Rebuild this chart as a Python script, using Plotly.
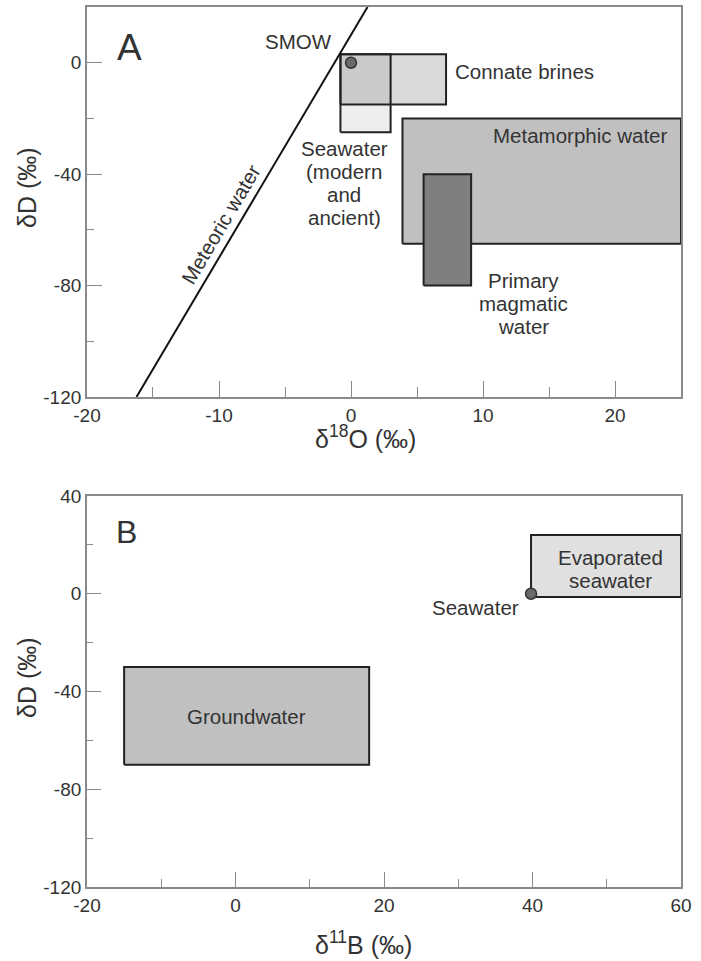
import plotly.graph_objects as go

# ---------------- data (panel A) ----------------
meteoric_x = [-16.25, 1.25]
meteoric_y = [-120, 20]
smow_x = [0]
smow_y = [0]
# boxes: [x0, x1, y0, y1]
seawater_box = [-0.8, 3, -25, 3]
connate_box = [-0.8, 7.2, -15, 3]
metamorphic_box = [3.9, 25, -65, -20]
magmatic_box = [5.5, 9.1, -80, -40]
a_xticks = [-20, -10, 0, 10, 20]
a_yticks = [-120, -80, -40, 0]

# ---------------- data (panel B) ----------------
groundwater_box = [-15, 18, -70, -30]
evaporated_box = [39.8, 60, -1.3, 24]
seawater_b_x = [39.8]
seawater_b_y = [0]
b_xticks = [-20, 0, 20, 40, 60]
b_yticks = [-120, -80, -40, 0, 40]

FONT = "Liberation Sans, Arial, Helvetica, sans-serif"
TXT = "#333333"
EDGE = "#222222"
AX = "#8a8a8a"

fig = go.Figure()


def box(b, fill, xa, ya):
    x0, x1, y0, y1 = b
    fig.add_trace(go.Scatter(
        x=[x0, x1, x1, x0, x0], y=[y0, y0, y1, y1, y0],
        mode="lines", fill="toself", fillcolor=fill,
        line=dict(color=EDGE, width=2), xaxis=xa, yaxis=ya,
        hoverinfo="skip", showlegend=False))


# panel A
box(metamorphic_box, "#c0c0c0", "x", "y")
box(magmatic_box, "#7f7f7f", "x", "y")
box(seawater_box, "rgba(0,0,0,0.065)", "x", "y")
box(connate_box, "rgba(0,0,0,0.15)", "x", "y")
fig.add_trace(go.Scatter(x=meteoric_x, y=meteoric_y, mode="lines",
                         line=dict(color="#111111", width=2),
                         xaxis="x", yaxis="y", showlegend=False))
fig.add_trace(go.Scatter(x=smow_x, y=smow_y, mode="markers",
                         marker=dict(size=11, color="#6a6a6a",
                                     line=dict(color="#333333", width=1.5)),
                         xaxis="x", yaxis="y", showlegend=False))

# panel B
box(groundwater_box, "#c0c0c0", "x2", "y2")
box(evaporated_box, "#e0e0e0", "x2", "y2")
fig.add_trace(go.Scatter(x=seawater_b_x, y=seawater_b_y, mode="markers",
                         marker=dict(size=11, color="#6a6a6a",
                                     line=dict(color="#333333", width=1.5)),
                         xaxis="x2", yaxis="y2", showlegend=False))

ann = []


def label(text, x, y, xref, yref, size=20.5, xanchor="center", yshift=0, angle=0):
    ann.append(dict(text=text, x=x, y=y, xref=xref, yref=yref, showarrow=False,
                    xanchor=xanchor, yanchor="middle", yshift=yshift,
                    textangle=angle, font=dict(family=FONT, size=size, color=TXT)))


def multiline(lines, x, y, xref, yref, size=20.5, spacing=23, xanchor="center"):
    n = len(lines)
    for i, t in enumerate(lines):
        label(t, x, y, xref, yref, size=size, xanchor=xanchor,
              yshift=((n - 1) / 2 - i) * spacing)


# panel A labels
label("A", -16.8, 5.4, "x", "y", size=37)
label("SMOW", -1.3, 7.5, "x", "y", xanchor="right")
label("Connate brines", 7.7, -3, "x", "y", xanchor="left")
multiline(["Seawater", "(modern", "and", "ancient)"], -0.5, -43, "x", "y")
label("Metamorphic water", 24.1, -26, "x", "y", xanchor="right")
multiline(["Primary", "magmatic", "water"], 13.1, -86.3, "x", "y")
label("Meteoric water", -9.9, -57.9, "x", "y", angle=-59.4)

# panel B labels
label("B", -14.7, 25.4, "x2", "y2", size=32)
label("Groundwater", 1.5, -50.4, "x2", "y2")
multiline(["Evaporated", "seawater"], 50.5, 10, "x2", "y2")
label("Seawater", 38.5, -5.7, "x2", "y2", xanchor="right")

# axis titles
label("δ<sup>18</sup>O (‰)", 0.5207, 0.5453, "paper", "paper", size=25)
label("δ<sup>11</sup>B (‰)", 0.518, 0.0187, "paper", "paper", size=25)
label("δD (‰)", 0.0385, 0.8054, "paper", "paper", size=25, angle=-90)
label("δD (‰)", 0.0385, 0.2955, "paper", "paper", size=25, angle=-90)


def axis(rng, ticks, mdtick, domain, anchor, major_len, minor_len):
    return dict(range=rng, domain=domain, anchor=anchor,
                tickmode="array", tickvals=ticks, ticktext=[str(t) for t in ticks],
                ticks="inside", ticklen=major_len, tickwidth=1.2, tickcolor=AX,
                minor=dict(dtick=mdtick, tick0=0, ticks="inside", ticklen=minor_len,
                           tickwidth=1.2, tickcolor=AX, showgrid=False),
                showline=True, linecolor=AX, linewidth=1.8, mirror=True,
                showgrid=False, zeroline=False, fixedrange=True, automargin=False,
                tickfont=dict(family=FONT, size=19, color=TXT))


fig.update_layout(
    template="none",
    width=701, height=961,
    margin=dict(l=0, r=0, t=0, b=0),
    paper_bgcolor="white", plot_bgcolor="white",
    showlegend=False,
    xaxis=axis([-20, 25], a_xticks, 5, [0.1241, 0.9715], "y", 16, 10),
    yaxis=axis([-120, 20], a_yticks, 20, [0.5869, 0.9927], "x", 15, 7),
    xaxis2=axis([-20, 60], b_xticks, 10, [0.1241, 0.9715], "y2", 15, 8),
    yaxis2=axis([-120, 40], b_yticks, 20, [0.0770, 0.4839], "x2", 14, 6),
    annotations=ann,
)

fig.write_html("out.html")
